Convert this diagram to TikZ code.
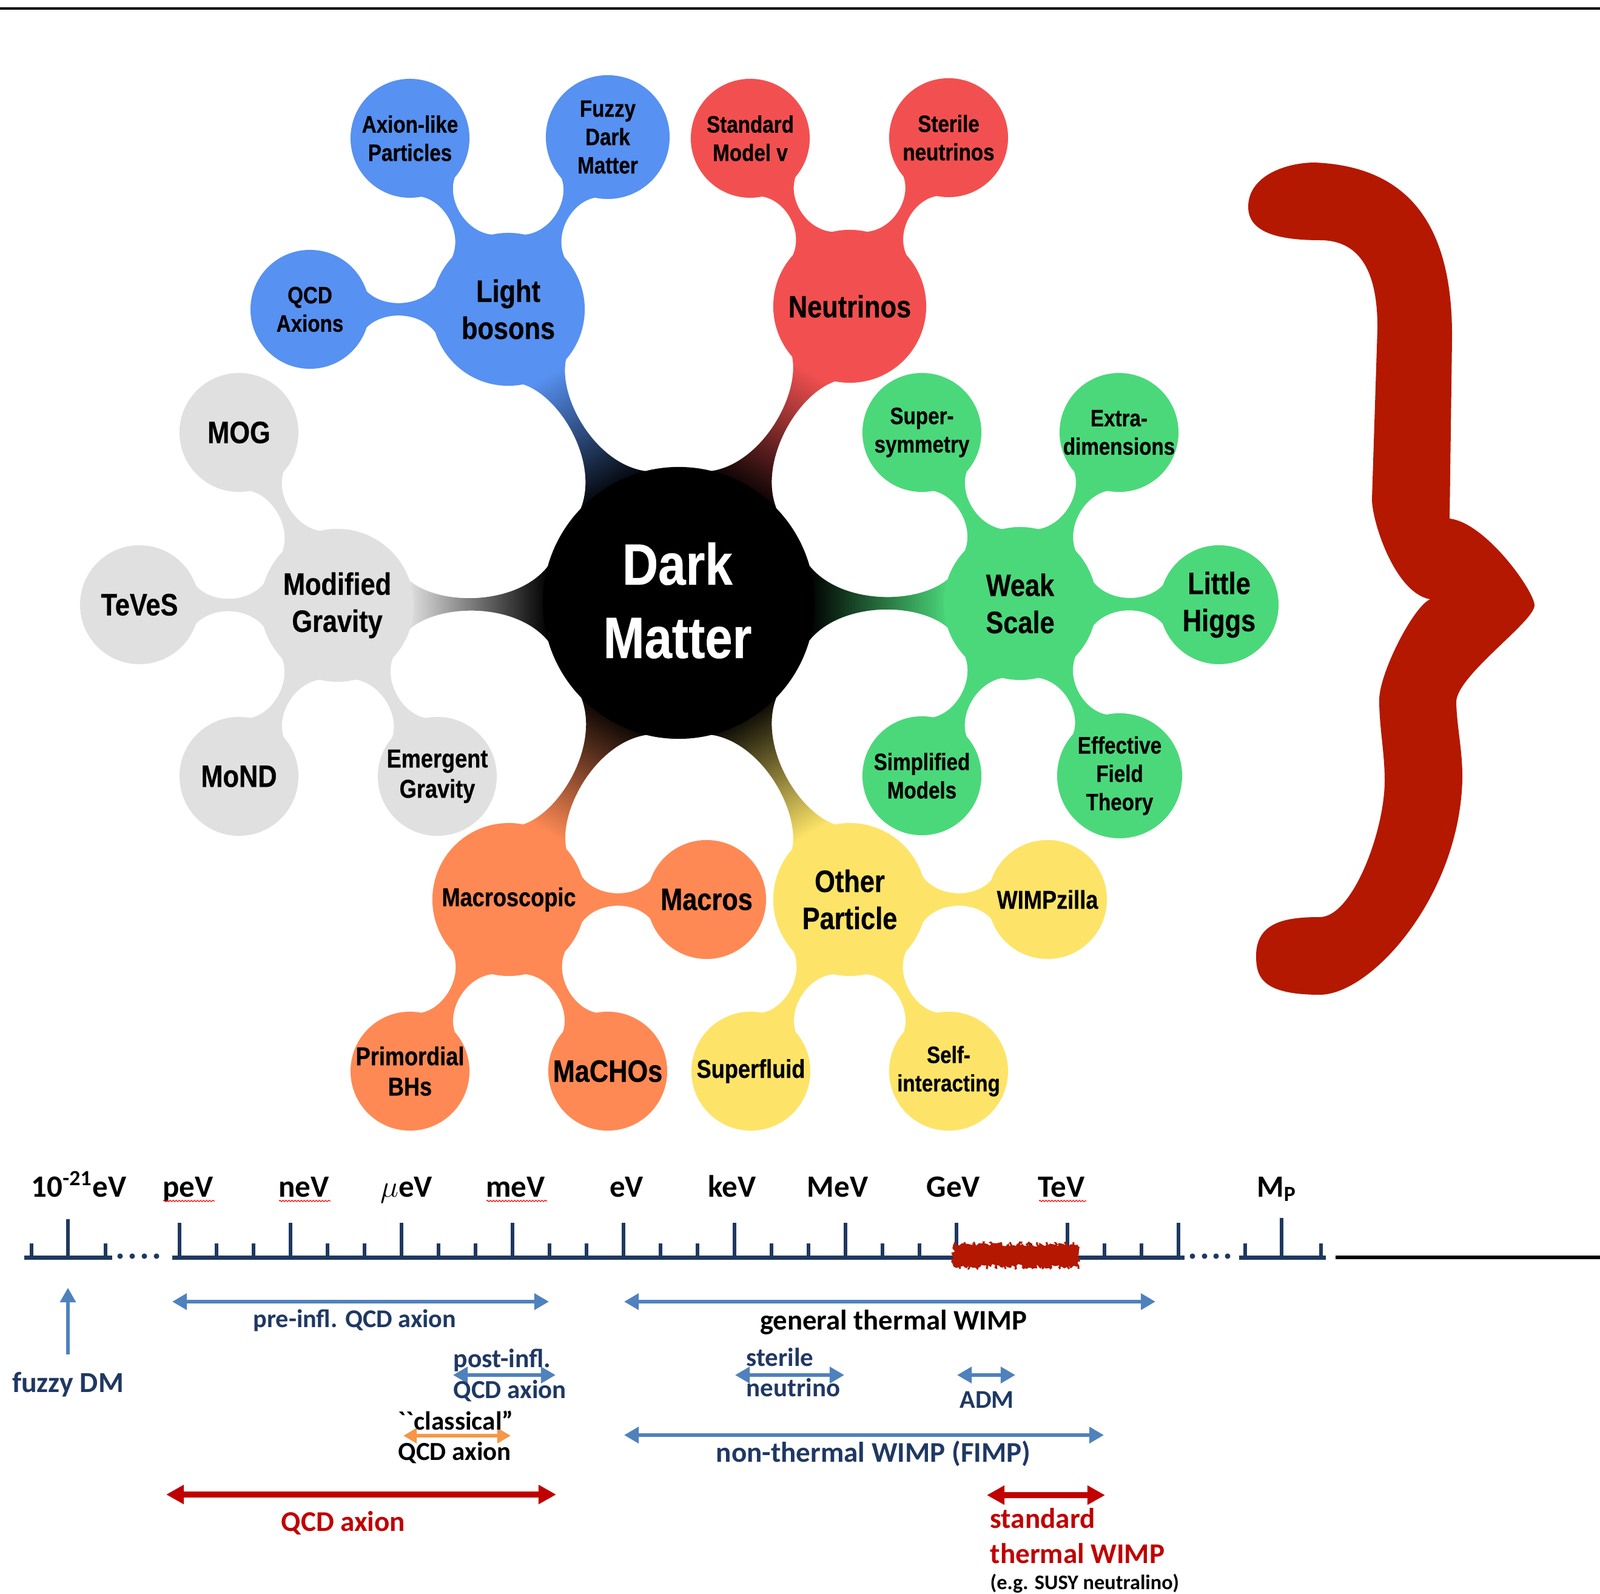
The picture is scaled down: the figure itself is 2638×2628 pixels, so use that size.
\documentclass[tikz,border=0pt]{standalone}
\usepackage{fontspec}
\setmainfont{Carlito}
\newfontfamily\mmfont[FakeStretch=0.85, BoldFeatures={FakeBold=0.5}]{Liberation Sans}
\usetikzlibrary{calc,arrows.meta,decorations.pathmorphing}
\pgfdeclarelayer{bgl}
\pgfdeclarelayer{conn}
\pgfsetlayers{bgl,conn,main}
\definecolor{cblue}{RGB}{87,145,241}
\definecolor{cred}{RGB}{242,80,80}
\definecolor{cgreen}{RGB}{75,216,122}
\definecolor{cgray}{RGB}{224,224,224}
\definecolor{corange}{RGB}{254,137,84}
\definecolor{cyellow}{RGB}{253,228,104}
\definecolor{bracered}{RGB}{180,24,0}
\definecolor{axisnavy}{RGB}{31,56,96}
\definecolor{arrowblue}{RGB}{79,129,189}
\definecolor{textnavy}{RGB}{31,56,100}
\definecolor{wimpred}{RGB}{192,0,0}
\definecolor{classorange}{RGB}{247,150,70}
% connector: [style]{parent}{child}{Rp}{Rc}{latP}{latC}{h}
\newcommand\conn[8][]{%
  \pgfmathsetmacro\aP{asin(#6/#4)}%
  \pgfmathsetmacro\aC{asin(#7/#5)}%
  \path ($(#2.center)!{#4*0.01cm}!(#3.center)$) coordinate (sp)
        ($(#3.center)!{#5*0.01cm}!(#2.center)$) coordinate (sc);
  \path ($(sp)!0.2!(sc)$) coordinate (qa) ($(sp)!0.8!(sc)$) coordinate (qb);
  \path ($(qa)!{#8*0.01cm}!90:(sc)$) coordinate (qal)
        ($(qa)!{#8*0.01cm}!-90:(sc)$) coordinate (qar)
        ($(qb)!{#8*0.01cm}!90:(sc)$) coordinate (qbl)
        ($(qb)!{#8*0.01cm}!-90:(sc)$) coordinate (qbr);
  \path[#1] ($(#2.center)!{#4*0.01cm}!\aP:(#3.center)$)
      .. controls (qal) and (qbl) .. ($(#3.center)!{#5*0.01cm}!-\aC:(#2.center)$)
      -- ($(#3.center)!{#5*0.01cm}!\aC:(#2.center)$)
      .. controls (qbr) and (qar) .. ($(#2.center)!{#4*0.01cm}!-\aP:(#3.center)$) -- cycle;
}
\tikzset{
  bub/.style={circle, inner sep=0pt, draw=none},
  leaf/.style={bub, minimum size=1.96cm},
  hub/.style={bub, minimum size=2.52cm},
  mt/.style={align=center, inner sep=0pt, font=\mmfont\bfseries\fontsize{11.1}{13.3}\selectfont},
  mtm/.style={align=center, inner sep=0pt, font=\mmfont\bfseries\fontsize{12.1}{14.2}\selectfont},
  mtb/.style={align=center, inner sep=0pt, font=\mmfont\bfseries\fontsize{14.5}{17.4}\selectfont},
  mtd/.style={align=center, inner sep=0pt, text=white, font=\mmfont\bfseries\fontsize{27.3}{34.4}\selectfont},
  scalelbl/.style={inner sep=0pt, anchor=base, font=\bfseries\fontsize{14.5}{17}\selectfont},
  navylbl/.style={inner sep=0pt, anchor=base, text=textnavy, font=\bfseries\fontsize{12.2}{14}\selectfont},
  blacklbl/.style={inner sep=0pt, anchor=base, text=black, font=\bfseries\fontsize{13.3}{15}\selectfont},
  redlbl/.style={inner sep=0pt, anchor=base, text=wimpred, font=\bfseries\fontsize{13.4}{15}\selectfont},
  axisline/.style={draw=axisnavy, line width=0.07cm},
  majortick/.style={draw=axisnavy, line width=0.06cm},
  spell/.style={draw=red, line width=0.012cm, decorate, decoration={snake, segment length=0.05cm, amplitude=0.012cm}},
  barrow/.style={draw=arrowblue, line width=0.065cm, {Triangle[length=0.24cm,width=0.26cm]}-{Triangle[length=0.24cm,width=0.26cm]}},
  rarrow/.style={draw=wimpred, line width=0.1cm, {Triangle[length=0.29cm,width=0.30cm]}-{Triangle[length=0.29cm,width=0.30cm]}},
  oarrow/.style={draw=classorange, line width=0.065cm, {Triangle[length=0.22cm,width=0.24cm]}-{Triangle[length=0.22cm,width=0.24cm]}},
}
\begin{document}
\begin{tikzpicture}[x=0.01cm,y=-0.01cm]
\begin{pgfonlayer}{bgl}
\fill[white] (0,0) rectangle (2638,2628);
\end{pgfonlayer}
\useasboundingbox (0,0) rectangle (2638,2628);
% top rule
\coordinate (tl) at (0,14);
\coordinate (tr) at (2638,14);
\draw[black, line width=0.045cm] (tl) -- (tr);

% ---------------- mind map bubbles ----------------
\node[bub, minimum size=4.48cm, fill=black] (dm) at (1119,994) {};
\node[mtd] (dm-t) at (1117,990) {Dark\\Matter};

\node[hub, fill=cblue] (lb) at (838,510) {};
\node[mtb] (lb-t) at (lb) {Light\\bosons};
\node[leaf, fill=cblue] (alp) at (676,228) {};
\node[mt] (alp-t) at (alp) {Axion-like\\Particles};
\node[leaf, minimum size=2.04cm, fill=cblue] (fdm) at (1002,226) {};
\node[mt] (fdm-t) at (fdm) {Fuzzy\\Dark\\Matter};
\node[leaf, fill=cblue] (qcd) at (511,510) {};
\node[mt] (qcd-t) at (qcd) {QCD\\Axions};

\node[hub, fill=cred] (neu) at (1401,505) {};
\node[mtb] (neu-t) at (neu) {Neutrinos};
\node[leaf, fill=cred] (smv) at (1237,228) {};
\node[mt] (smv-t) at (smv) {Standard\\Model v};
\node[leaf, fill=cred] (stn) at (1564,227) {};
\node[mt] (stn-t) at (stn) {Sterile\\neutrinos};

\node[hub, fill=cgray] (mg) at (556,998) {};
\node[mtb] (mg-t) at (mg) {Modified\\Gravity};
\node[leaf, fill=cgray] (mog) at (394,713) {};
\node[mtb] (mog-t) at (mog) {MOG};
\node[leaf, fill=cgray] (tev) at (230,997) {};
\node[mtb] (tev-t) at (tev) {TeVeS};
\node[leaf, fill=cgray] (mond) at (394,1280) {};
\node[mtb] (mond-t) at (mond) {MoND};
\node[leaf, fill=cgray] (emg) at (721,1280) {};
\node[mtm] (emg-t) at (emg) {Emergent\\Gravity};

\node[hub, fill=cgreen] (ws) at (1682,995) {};
\node[mtb] (ws-t) at (ws) {Weak\\Scale};
\node[leaf, fill=cgreen] (susy) at (1520,713) {};
\node[mt] (susy-t) at (susy) {Super-\\symmetry};
\node[leaf, fill=cgreen] (xd) at (1845,713) {};
\node[mt] (xd-t) at (xd) {Extra-\\dimensions};
\node[leaf, fill=cgreen] (lh) at (2010,997) {};
\node[mtb] (lh-t) at (lh) {Little\\Higgs};
\node[leaf, fill=cgreen] (sm) at (1520,1279) {};
\node[mt] (sm-t) at (sm) {Simplified\\Models};
\node[leaf, minimum size=2.06cm, fill=cgreen] (eft) at (1846,1279) {};
\node[mt] (eft-t) at (eft) {Effective\\Field\\Theory};

\node[hub, fill=corange] (mac) at (839,1483) {};
\node[mtm] (mac-t) at (mac) {Macroscopic};
\node[leaf, fill=corange] (macros) at (1165,1483) {};
\node[mtb] (macros-t) at (macros) {Macros};
\node[leaf, fill=corange] (pbh) at (676,1766) {};
\node[mtm] (pbh-t) at (pbh) {Primordial\\BHs};
\node[leaf, fill=corange] (macho) at (1002,1766) {};
\node[mtb] (macho-t) at (macho) {MaCHOs};

\node[hub, fill=cyellow] (op) at (1401,1483) {};
\node[mtb] (op-t) at (op) {Other\\Particle};
\node[leaf, fill=cyellow] (wz) at (1727,1483) {};
\node[mtm] (wz-t) at (wz) {WIMPzilla};
\node[leaf, fill=cyellow] (sf) at (1238,1766) {};
\node[mtm] (sf-t) at (sf) {Superfluid};
\node[leaf, fill=cyellow] (si) at (1564,1766) {};
\node[mt] (si-t) at (si) {Self-\\interacting};

% ---------------- connectors ----------------
\begin{pgfonlayer}{conn}
\conn[top color=cblue, bottom color=black, shading angle=30]{dm}{lb}{224}{126}{62}{41}{-3}
\conn[top color=cred, bottom color=black, shading angle=-29.7]{dm}{neu}{224}{126}{62}{41}{-3}
\conn[top color=cgray, bottom color=black, shading angle=90]{dm}{mg}{224}{125}{62}{41}{-3}
\conn[top color=cgreen, bottom color=black, shading angle=-90]{dm}{ws}{224}{125}{62}{41}{-3}
\conn[top color=corange, bottom color=black, shading angle=150]{dm}{mac}{224}{126}{62}{41}{-3}
\conn[top color=cyellow, bottom color=black, shading angle=-149.7]{dm}{op}{224}{126}{62}{41}{-3}

\conn[fill=cblue]{lb}{alp}{126}{98}{38}{32}{2}
\conn[fill=cblue]{lb}{fdm}{126}{102}{38}{32}{2}
\conn[fill=cblue]{lb}{qcd}{126}{97}{38}{32}{2}
\conn[fill=cred]{neu}{smv}{126}{98}{38}{32}{2}
\conn[fill=cred]{neu}{stn}{126}{98}{38}{32}{2}
\conn[fill=cgray]{mg}{mog}{125}{98}{38}{32}{2}
\conn[fill=cgray]{mg}{tev}{125}{98}{38}{32}{2}
\conn[fill=cgray]{mg}{mond}{125}{98}{38}{32}{2}
\conn[fill=cgray]{mg}{emg}{125}{98}{38}{32}{2}
\conn[fill=cgreen]{ws}{susy}{125}{98}{38}{32}{2}
\conn[fill=cgreen]{ws}{xd}{125}{98}{38}{32}{2}
\conn[fill=cgreen]{ws}{lh}{125}{98}{38}{32}{2}
\conn[fill=cgreen]{ws}{sm}{125}{98}{38}{32}{2}
\conn[fill=cgreen]{ws}{eft}{125}{103}{38}{32}{2}
\conn[fill=corange]{mac}{macros}{126}{98}{38}{32}{2}
\conn[fill=corange]{mac}{pbh}{126}{98}{38}{32}{2}
\conn[fill=corange]{mac}{macho}{126}{98}{38}{32}{2}
\conn[fill=cyellow]{op}{wz}{126}{98}{38}{32}{2}
\conn[fill=cyellow]{op}{sf}{126}{98}{38}{32}{2}
\conn[fill=cyellow]{op}{si}{126}{98}{38}{32}{2}
\end{pgfonlayer}

% ---------------- brace ----------------
\fill[bracered] (2168,268) .. controls (2330,275) and (2396,380) .. (2394,561)
  -- (2390,855)
  .. controls (2450,862) and (2530,975) .. (2530,998)
  .. controls (2530,1025) and (2400,1115) .. (2401,1158)
  .. controls (2402,1200) and (2412,1240) .. (2411,1287)
  .. controls (2405,1480) and (2260,1640) .. (2176,1640)
  .. controls (2080,1640) and (2071,1610) .. (2071,1576)
  .. controls (2071,1520) and (2120,1512) .. (2176,1512)
  .. controls (2230,1512) and (2283,1370) .. (2283,1287)
  .. controls (2283,1240) and (2274,1200) .. (2274,1154)
  .. controls (2274,1110) and (2330,1000) .. (2358,988)
  .. controls (2300,978) and (2262,860) .. (2262,823)
  -- (2271,543)
  .. controls (2272,430) and (2230,396) .. (2176,396)
  .. controls (2100,396) and (2058,380) .. (2058,341)
  .. controls (2058,290) and (2120,268) .. (2168,268) -- cycle;

% ---------------- energy scale ----------------
\coordinate (a1l) at (40,2073);  \coordinate (a1r) at (185,2073);
\coordinate (a2l) at (284,2073); \coordinate (a2r) at (1953,2073);
\coordinate (a3l) at (2043,2073); \coordinate (a3r) at (2186,2073);
\coordinate (a4l) at (2202,2073); \coordinate (a4r) at (2638,2073);
\draw[axisline] (a1l) -- (a1r);
\draw[axisline] (a2l) -- (a2r);
\draw[axisline] (a3l) -- (a3r);
\draw[black, line width=0.055cm] (a4l) -- (a4r);
\draw[majortick] (112,2073) -- (112,2010);
\draw[majortick] (52,2073) -- (52,2050);
\draw[majortick] (174,2073) -- (174,2050);
\draw[majortick] (2113,2073) -- (2113,2008);
\draw[majortick] (2053,2073) -- (2053,2050);
\draw[majortick] (2178,2073) -- (2178,2050);
\foreach \k in {0,...,9} {\draw[majortick] (296+183*\k,2073) -- (296+183*\k,2016);}
\foreach \k in {0,...,8} {
  \draw[majortick] (357+183*\k,2073) -- (357+183*\k,2050);
  \draw[majortick] (418+183*\k,2073) -- (418+183*\k,2050);
}
\foreach \x in {198,218,238,258,1966,1986,2005,2024} {\fill[axisnavy] (\x,2071) circle[radius=0.045cm];}
% red scribble
\fill[bracered, decorate, decoration={random steps, segment length=0.04cm, amplitude=0.04cm}] (1572,2052) rectangle (1778,2088);
\foreach \x in {1575,1590,...,1770} {\draw[bracered, line width=0.03cm, decorate, decoration={random steps, segment length=0.03cm, amplitude=0.03cm}] (\x,2048) -- (\x+8,2092);}

% scale labels
\node[scalelbl] (l21) at (130,1973) {10\textsuperscript{-21}eV};
\node[scalelbl] (lpev) at (310,1973) {peV};
\node[scalelbl] (lnev) at (501,1973) {neV};
\node[scalelbl] (luev) at (670,1973) {$\mu$eV};
\node[scalelbl] (lmev) at (850,1973) {meV};
\node[scalelbl] (lev) at (1033,1973) {eV};
\node[scalelbl] (lkev) at (1207,1973) {keV};
\node[scalelbl] (lmv) at (1381,1973) {MeV};
\node[scalelbl] (lgev) at (1572,1973) {GeV};
\node[scalelbl] (ltev) at (1750,1973) {TeV};
\node[scalelbl] (lmp) at (2105,1973) {M\textsubscript{P}};
\draw[spell] (269,1980) -- (354,1980);
\draw[spell] (460,1980) -- (545,1980);
\draw[spell] (802,1980) -- (902,1980);
\draw[spell] (1713,1980) -- (1791,1980);

% range arrows
\coordinate (fz1) at (112,2233); \coordinate (fz2) at (112,2123);
\draw[draw=arrowblue, line width=0.065cm, -{Triangle[length=0.24cm,width=0.25cm]}] (fz1) -- (fz2);
\coordinate (pre1) at (284,2146); \coordinate (pre2) at (905,2146);
\draw[barrow] (pre1) -- (pre2);
\coordinate (gtw1) at (1029,2146); \coordinate (gtw2) at (1905,2146);
\draw[barrow] (gtw1) -- (gtw2);
\coordinate (post1) at (747,2267); \coordinate (post2) at (916,2267);
\draw[barrow] (post1) -- (post2);
\coordinate (st1) at (1212,2267); \coordinate (st2) at (1392,2267);
\draw[barrow] (st1) -- (st2);
\coordinate (adm1) at (1578,2267); \coordinate (adm2) at (1674,2267);
\draw[barrow] (adm1) -- (adm2);
\coordinate (cl1) at (665,2367); \coordinate (cl2) at (842,2367);
\draw[oarrow] (cl1) -- (cl2);
\coordinate (nt1) at (1029,2366); \coordinate (nt2) at (1820,2366);
\draw[barrow] (nt1) -- (nt2);
\coordinate (qa1) at (274,2464); \coordinate (qa2) at (917,2464);
\draw[rarrow] (qa1) -- (qa2);
\coordinate (sw1) at (1627,2465); \coordinate (sw2) at (1822,2465);
\draw[rarrow] (sw1) -- (sw2);

% range labels
\node[navylbl, font=\bfseries\fontsize{13.6}{15}\selectfont] (tfz) at (112,2295) {fuzzy DM};
\node[navylbl, font=\bfseries\fontsize{12.0}{14}\selectfont] (tpre) at (585,2188) {pre-infl. QCD axion};
\node[blacklbl] (tgtw) at (1473,2192) {general thermal WIMP};
\node[navylbl, anchor=base west, font=\bfseries\fontsize{12.4}{14}\selectfont] (tpost1) at (747,2254) {post-infl.};
\node[navylbl, anchor=base west] (tpost2) at (747,2305) {QCD axion};
\node[blacklbl, anchor=base west, font=\bfseries\fontsize{12.3}{14}\selectfont] (tcl1) at (656,2357) {\textasciigrave\textasciigrave classical”};
\node[blacklbl, anchor=base west, font=\bfseries\fontsize{12.2}{14}\selectfont] (tcl2) at (656,2407) {QCD axion};
\node[navylbl, anchor=base west] (tst1) at (1230,2252) {sterile};
\node[navylbl, anchor=base west] (tst2) at (1230,2302) {neutrino};
\node[navylbl, font=\bfseries\fontsize{12.0}{14}\selectfont] (tadm) at (1627,2321) {ADM};
\node[navylbl, font=\bfseries\fontsize{13.4}{15}\selectfont] (tnt) at (1440,2410) {non-thermal WIMP (FIMP)};
\node[redlbl] (tqa) at (566,2524) {QCD axion};
\node[redlbl, anchor=base west] (tsw1) at (1632,2519) {standard};
\node[redlbl, anchor=base west] (tsw2) at (1632,2577) {thermal WIMP};
\node[blacklbl, anchor=base west, font=\bfseries\fontsize{9.75}{11}\selectfont] (tsusy) at (1632,2620) {(e.g. SUSY neutralino)};
\end{tikzpicture}
\end{document}
